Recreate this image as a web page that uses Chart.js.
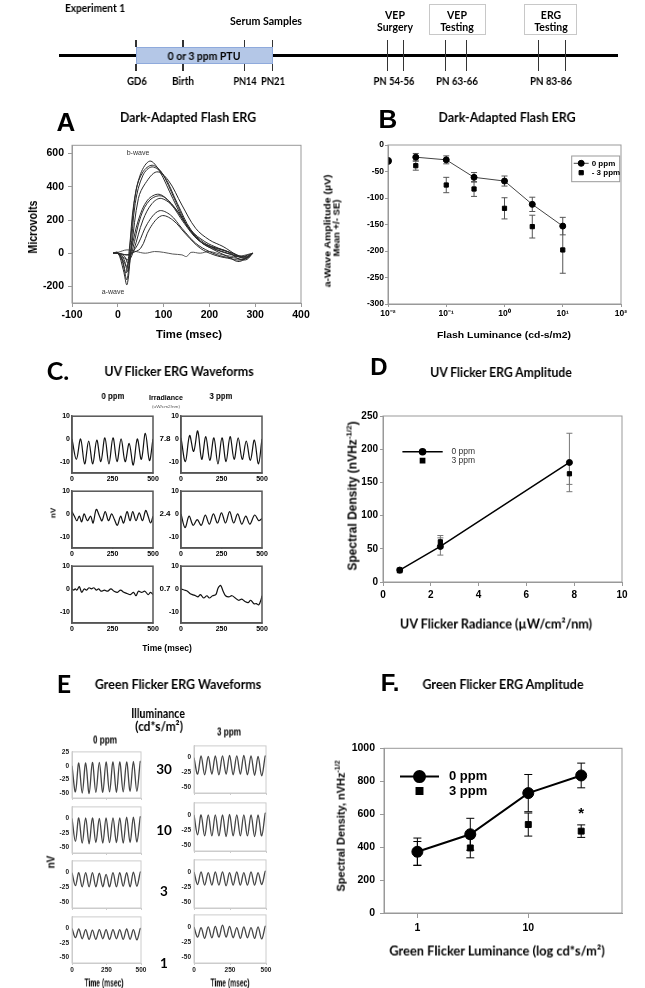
<!DOCTYPE html>
<html>
<head>
<meta charset="utf-8">
<script src="https://cdn.jsdelivr.net/npm/chart.js@4.4.0/dist/chart.umd.min.js"></script>
<style>
  body { margin: 0; background: #fff; width: 645px; height: 988px; position: relative; overflow: hidden; }
  canvas { position: absolute; }
  .t { position: absolute; white-space: nowrap; line-height: 1; color: #000; will-change: transform; }
  .r { position: absolute; box-sizing: border-box; }
</style>
</head>
<body>
<script>
// ---------------- data ----------------

// timeline (Experiment 1)
const tlDayLabels = ["GD6", "Birth", "PN14", "PN21", "PN 54-56", "PN 63-66", "PN 83-86"];
const tlStageLabels = ["Serum Samples", "VEP\nSurgery", "VEP\nTesting", "ERG\nTesting"];

// A: dark-adapted flash ERG traces, [msec, microvolts]
const flashTrace1 = [[-10,0],[0,0],[10,-40],[18,-120],[25,20],[35,300],[50,480],[70,555],[90,500],[120,330],[150,170],[180,80],[210,30],[240,0],[270,-20],[295,0]];
const flashTrace2 = [[-10,0],[0,0],[10,-50],[20,-160],[28,80],[40,380],[55,490],[75,530],[95,490],[125,320],[155,150],[185,60],[215,20],[250,-10],[280,-30],[295,0]];
const flashTrace3 = [[-10,0],[0,5],[12,-100],[20,-190],[28,0],[38,300],[55,470],[75,520],[100,470],[130,300],[160,140],[190,70],[220,30],[250,0],[275,-30],[295,0]];
const flashTrace4 = [[-10,0],[0,0],[15,-60],[22,-110],[30,40],[45,330],[60,420],[85,490],[110,440],[140,290],[170,150],[200,80],[230,40],[260,-10],[280,-20],[295,0]];
const flashTrace5 = [[-10,0],[0,0],[12,-30],[20,-80],[30,30],[45,200],[65,320],[90,355],[115,300],[145,180],[175,80],[205,40],[240,10],[270,-40],[295,0]];
const flashTrace6 = [[-10,0],[0,0],[15,-20],[22,-60],[32,20],[50,220],[70,320],[95,345],[120,290],[150,170],[180,70],[210,20],[240,-20],[265,-50],[295,0]];
const flashTrace7 = [[-10,0],[0,0],[15,-30],[25,-40],[35,20],[55,200],[75,300],[95,330],[125,270],[155,150],[185,60],[215,30],[250,0],[280,-30],[295,0]];
const flashTrace8 = [[-10,0],[0,0],[20,-10],[30,0],[45,60],[65,180],[90,255],[115,230],[140,150],[170,60],[200,10],[230,-20],[260,-30],[280,-40],[295,0]];
const flashTrace9 = [[-10,0],[0,0],[20,-10],[30,0],[50,30],[70,150],[95,225],[120,200],[150,110],[180,30],[210,-10],[240,-30],[270,-40],[295,0]];
const flashTrace10 = [[-10,0],[0,5],[20,20],[40,10],[60,0],[80,10],[100,5],[120,-5],[140,-10],[150,-20],[160,5],[180,0],[200,10],[230,-10],[260,-20],[295,0]];
const flashTraces = [flashTrace1, flashTrace2, flashTrace3, flashTrace4, flashTrace5, flashTrace6, flashTrace7, flashTrace8, flashTrace9, flashTrace10];
const aXTicks = [-100, 0, 100, 200, 300, 400];
const aYTicks = [-200, 0, 200, 400, 600];

// B: a-wave amplitude vs flash luminance
const flashLum = [0.03, 0.1, 0.3, 1, 3, 10];
const aWave0 = [-23, -28, -61, -68, -112, -153];
const aWave0SE = [7, 7.5, 9, 9.5, 13.5, 16.5];
const aWave3 = [-39, -75.5, -83, -119.5, -154, -198];
const aWave3SE = [8.5, 14.5, 14, 20, 21.5, 44];
const aWaveEdgeLum = [0.01];
const aWaveEdge = [-30];
const bXTicks = [0.01, 0.1, 1, 10, 100];
const bXTickLabels = ["10⁻²", "10⁻¹", "10⁰", "10¹", "10²"];
const bYTicks = [0, -50, -100, -150, -200, -250, -300];

// C: UV flicker waveforms, [msec, nV]
const uvWave0_78 = [[0,0],[27,-9],[53,0],[78,-11],[103,-1],[128,-11],[153,-0.5],[178,-10],[203,0.5],[228,-11],[253,0.5],[278,-10],[303,0],[328,-10],[353,-2],[378,-11.5],[403,0],[428,-9],[453,2.5],[478,-9.5],[500,0]];
const uvWave3_78 = [[0,0.5],[27,-10],[53,1.5],[78,-5.5],[103,3.5],[128,-9],[153,1],[178,-9.5],[203,0.5],[228,-11],[253,0.5],[278,-10],[303,1],[328,-9],[353,0.5],[378,-9],[403,-1],[428,-9.5],[453,-0.5],[478,-11],[500,0]];
const uvWave0_24 = [[0,1],[15,-1],[30,-3],[45,-1],[60,-3.5],[75,0],[95,-3],[115,-1],[130,-4],[150,2],[170,-1],[185,-3],[205,1],[225,-3],[245,0],[262,-2.5],[280,-5],[300,-1],[318,-4],[340,1],[358,-3],[375,1],[395,-3],[415,0.5],[435,-3],[455,1.5],[470,-1],[485,-4],[500,-1]];
const uvWave3_24 = [[0,0],[25,-6],[50,-1],[75,-5],[100,-2.5],[125,-5],[150,-0.5],[175,-4.5],[200,0],[225,-4],[250,0.5],[275,-4],[300,1],[325,-4],[350,0],[375,-4.5],[400,-1],[425,-4.5],[455,-0.5],[480,-3],[500,-2]];
const uvWave0_07 = [[0,0],[10,-0.5],[20,0],[30,-0.5],[45,1],[60,-1.5],[75,0],[90,-0.5],[105,0.5],[120,0],[135,0.5],[150,-0.5],[165,0],[180,-1],[200,-0.5],[220,-1],[240,0],[260,-1],[280,-1.5],[300,-0.5],[320,-1.5],[340,-2],[360,-2.5],[380,-1.5],[395,-3],[410,-1],[430,-1.5],[450,-1],[470,-2.5],[485,-1.5],[500,-2.5]];
const uvWave3_07 = [[0,0],[20,-0.5],[40,-1],[55,-2],[70,-2.5],[90,-3],[105,-3.5],[120,-2.5],[140,-4],[160,-3],[175,-4],[195,-3],[215,-2.5],[230,0.5],[245,1.5],[260,-1],[275,-3],[295,-3.5],[315,-3],[335,-4],[355,-5],[375,-4.5],[395,-5.5],[415,-6],[430,-5],[450,-6.5],[465,-6.5],[480,-7],[495,-4.5],[500,-3]];
const uvIrradiance = ["7.8", "2.4", "0.7"];
const cXTicks = [0, 250, 500];
const cYTicks = [10, 0, -10];

// D: UV flicker amplitude
const uvRadiance = [0.7, 2.4, 7.8];
const uvAmp0 = [18, 53.5, 180];
const uvAmp0SE = [3, 13, 44];
const uvAmp3 = [17, 60.5, 163];
const uvAmp3SE = [3, 9.5, 16];
const dXTicks = [0, 2, 4, 6, 8, 10];
const dYTicks = [0, 50, 100, 150, 200, 250];

// E: green flicker waveforms, [msec, nV]
const grnWave0_30 = [[0,0],[25,-47],[49,5],[74,-49],[99,5],[124,-50],[148,6],[173,-48],[198,6],[223,-48],[247,7],[272,-47],[297,7],[322,-48],[346,7],[371,-47],[396,7],[421,-46],[445,8],[470,-46],[495,8],[500,5]];
const grnWave3_30 = [[0,0],[25,-28],[49,3],[74,-29],[99,2],[124,-28],[148,3],[173,-29],[198,3],[223,-28],[247,4],[272,-29],[297,3],[322,-28],[346,4],[371,-29],[396,3],[421,-30],[445,2],[470,-31],[495,3],[500,1]];
const grnWave0_10 = [[0,0],[25,-40],[49,1],[74,-43],[99,1],[124,-44],[148,1],[173,-42],[198,0],[223,-43],[247,1],[272,-42],[297,1],[322,-42],[346,1],[371,-43],[396,2],[421,-42],[445,2],[470,-41],[495,3],[500,1]];
const grnWave3_10 = [[0,0],[25,-33],[49,0],[74,-35],[99,0],[124,-35],[148,0],[173,-35],[198,0],[223,-36],[247,1],[272,-35],[297,0],[322,-35],[346,0],[371,-35],[396,0],[421,-36],[445,0],[470,-35],[495,3],[500,2]];
const grnWave0_3 = [[0,0],[25,-22],[49,0],[74,-24],[99,0],[124,-24],[148,0],[173,-24],[198,-1],[223,-24],[247,-3],[272,-24],[297,0],[322,-24],[346,0],[371,-23],[396,0],[421,-24],[445,1],[470,-23],[495,1],[500,0]];
const grnWave3_3 = [[0,0],[25,-21],[49,0],[74,-22],[99,-1],[124,-22],[148,0],[173,-22],[198,0],[223,-23],[247,-1],[272,-22],[297,0],[322,-22],[346,-1],[371,-22],[396,0],[421,-22],[445,-1],[470,-21],[495,1],[500,0]];
const grnWave0_1 = [[0,0],[25,-16],[49,-1],[74,-18],[99,-2],[124,-19],[148,-3],[173,-19],[198,-2],[223,-18],[247,-2],[272,-19],[297,-2],[322,-18],[346,-2],[371,-19],[396,-1],[421,-19],[445,-2],[470,-20],[495,0],[500,-2]];
const grnWave3_1 = [[0,0],[25,-17],[49,-1],[74,-19],[99,0],[124,-18],[148,1],[173,-17],[198,3],[223,-17],[247,1],[272,-18],[297,-1],[322,-19],[346,0],[371,-18],[396,-1],[421,-19],[445,0],[470,-20],[495,1],[500,0]];
const greenIllum = ["30", "10", "3", "1"];
const eXTicks = [0, 250, 500];
const eYTicksTop = [25, 0, -25, -50];
const eYTicks = [0, -25, -50];

// F: green flicker amplitude
const greenLum = [1, 3, 10, 30];
const greenAmp0 = [372, 478, 728, 835];
const greenAmp0SE = [83, 97, 113, 75];
const greenAmp3 = [362, 395, 537, 497];
const greenAmp3SE = [72, 60, 70, 38];
const sigLum = [30];
const sigAmp = [600];
const fXTicks = [1, 10];
const fYTicks = [0, 200, 400, 600, 800, 1000];

// ---------------- helpers ----------------
const SANS = "'Liberation Sans', Arial, sans-serif";
const CAL = "Lato, 'Open Sans', sans-serif";
const measureCtx = document.createElement("canvas").getContext("2d");

Chart.defaults.font.family = SANS;
Chart.defaults.color = "#000";

function toPts(arr) {
  return arr.map(([x, y]) => ({ x, y }));
}
function zip(xs, ys) {
  return xs.map((x, i) => ({ x, y: ys[i] }));
}

function txt(s, x, y, font, opt = {}) {
  const d = document.createElement("div");
  d.className = "t";
  if (opt.html) d.innerHTML = s; else d.textContent = s;
  d.style.font = font;
  d.style.left = x + "px";
  d.style.top = y + "px";
  if (opt.color) d.style.color = opt.color;
  let tr = "translate(-50%,-50%)";
  if (opt.rot) tr += " rotate(-90deg)";
  if (opt.w) {
    measureCtx.font = font;
    tr += ` scale(${opt.w / measureCtx.measureText(s).width},1)`;
  }
  d.style.transform = tr;
  document.body.appendChild(d);
}

function box(x1, y1, x2, y2, css) {
  const d = document.createElement("div");
  d.className = "r";
  d.style.cssText = `left:${x1}px;top:${y1}px;width:${x2 - x1}px;height:${y2 - y1}px;${css}`;
  document.body.appendChild(d);
}

// frame round the plot area
const framePlugin = {
  id: "frame",
  afterDraw(chart, args, opts) {
    if (!opts.color) return;
    const { ctx, chartArea: a } = chart;
    ctx.save();
    ctx.strokeStyle = opts.color;
    ctx.lineWidth = opts.width || 1;
    ctx.strokeRect(a.left, a.top, a.right - a.left, a.bottom - a.top);
    ctx.restore();
  },
};

// vertical error bars from dataset.errors
const errorBarPlugin = {
  id: "errorBars",
  beforeDatasetsDraw(chart) {
    const { ctx } = chart;
    const ys = chart.scales.y;
    chart.data.datasets.forEach((ds, i) => {
      if (!ds.errors) return;
      const meta = chart.getDatasetMeta(i);
      ctx.save();
      ctx.strokeStyle = ds.errorColor || "#000";
      ctx.lineWidth = ds.errorWidth || 1;
      const c = ds.capWidth || 3;
      meta.data.forEach((pt, j) => {
        const e = ds.errors[j];
        if (!e) return;
        const v = ds.data[j].y;
        const y1 = ys.getPixelForValue(v + e);
        const y2 = ys.getPixelForValue(v - e);
        ctx.beginPath();
        ctx.moveTo(pt.x, y1); ctx.lineTo(pt.x, y2);
        ctx.moveTo(pt.x - c, y1); ctx.lineTo(pt.x + c, y1);
        ctx.moveTo(pt.x - c, y2); ctx.lineTo(pt.x + c, y2);
        ctx.stroke();
      });
      ctx.restore();
    });
  },
};

// legend drawn inside the plot area
const inlineLegendPlugin = {
  id: "inlineLegend",
  afterDraw(chart, args, opts) {
    if (!opts.labels) return;
    const { ctx, chartArea: a } = chart;
    ctx.save();
    if (opts.box) {
      ctx.strokeStyle = "#999";
      ctx.lineWidth = 1;
      ctx.strokeRect(a.left + opts.box[0], a.top + opts.box[1], opts.box[2], opts.box[3]);
    }
    opts.labels.forEach((label, i) => {
      const ds = chart.data.datasets[i];
      const y = a.top + opts.y + i * opts.rowH;
      const x0 = a.left + opts.x;
      const mx = x0 + opts.lineLen / 2;
      if (ds.showLine) {
        ctx.strokeStyle = ds.borderColor;
        ctx.lineWidth = ds.borderWidth;
        ctx.beginPath();
        ctx.moveTo(x0, y); ctx.lineTo(x0 + opts.lineLen, y);
        ctx.stroke();
      }
      ctx.fillStyle = ds.pointBackgroundColor;
      ctx.strokeStyle = ds.pointBorderColor;
      Chart.helpers.drawPoint(ctx, { pointStyle: ds.pointStyle, radius: ds.pointRadius, rotation: 0, borderWidth: 1 }, mx, y);
      ctx.fillStyle = opts.color || "#000";
      ctx.font = opts.font;
      ctx.textBaseline = "middle";
      ctx.textAlign = "left";
      ctx.fillText(label, x0 + opts.lineLen + opts.gap, y);
    });
    ctx.restore();
  },
};

// significance marks at data coordinates
const markPlugin = {
  id: "marks",
  afterDraw(chart, args, opts) {
    if (!opts.xs) return;
    const { ctx, scales } = chart;
    ctx.save();
    ctx.font = opts.font;
    ctx.fillStyle = "#000";
    ctx.textAlign = "center";
    ctx.textBaseline = "middle";
    opts.xs.forEach((x, i) => {
      ctx.fillText(opts.text, scales.x.getPixelForValue(x), scales.y.getPixelForValue(opts.ys[i]));
    });
    ctx.restore();
  },
};

Chart.register(framePlugin, errorBarPlugin, inlineLegendPlugin, markPlugin);

function axis(min, max, ticks, o = {}) {
  return {
    type: o.type || "linear",
    min,
    max,
    afterBuildTicks: (s) => { s.ticks = ticks.map((v) => ({ value: v })); },
    ticks: {
      display: o.labels !== false,
      autoSkip: false,
      maxRotation: 0,
      font: { size: o.size || 10, weight: "bold", family: SANS },
      color: o.color || "#000",
      padding: o.pad ?? 2,
      callback: o.fmt || ((v) => String(v)),
    },
    grid: {
      display: true,
      drawOnChartArea: false,
      drawTicks: true,
      tickLength: o.tick ?? 4,
      color: o.line || "#888",
      lineWidth: o.lw || 1,
    },
    border: { display: true, color: o.line || "#888", width: o.lw || 1 },
  };
}

// area = plot rectangle on the page, pad = room for axes round it
function makeChart(area, pad, datasets, scales, plugins = {}) {
  const c = document.createElement("canvas");
  const w = area.r - area.l + pad.l + pad.r;
  const h = area.b - area.t + pad.t + pad.b;
  c.width = Math.round(w);
  c.height = Math.round(h);
  c.style.left = area.l - pad.l + "px";
  c.style.top = area.t - pad.t + "px";
  c.style.width = Math.round(w) + "px";
  c.style.height = Math.round(h) + "px";
  document.body.appendChild(c);
  scales.x.afterFit = (s) => { s.height = pad.b; };
  scales.y.afterFit = (s) => { s.width = pad.l; };
  scales.x.position = "bottom";
  scales.y.position = "left";
  return new Chart(c, {
    type: "scatter",
    data: { datasets },
    options: {
      responsive: false,
      animation: false,
      devicePixelRatio: 1,
      events: [],
      layout: { padding: { top: pad.t, right: pad.r, left: 0, bottom: 0 } },
      scales,
      plugins: Object.assign({ legend: { display: false }, tooltip: { enabled: false } }, plugins),
    },
  });
}

function waveDs(arr, color, width) {
  return { data: toPts(arr), showLine: true, pointRadius: 0, borderColor: color, borderWidth: width, tension: 0.35 };
}

function markerDs(pts, style, r, errors, extra = {}) {
  return Object.assign({
    data: pts,
    showLine: false,
    pointStyle: style,
    pointRadius: r,
    pointBackgroundColor: "#000",
    pointBorderColor: "#000",
    pointBorderWidth: 1,
    borderColor: "#000",
    borderWidth: 1,
    errors,
  }, extra);
}

// ---------------- timeline ----------------
const tlDayX = [136.7, 182.7, 245, 272.7, 394, 457.3, 551];
const tlDayW = [20, 22, 23, 24, 41, 42, 42];
const tlShortTickX = [136, 183, 244.7, 272.7];
const tlLongTickX = [387.7, 403.3, 445.3, 466.7, 538.7, 565.7];
const tlStageX = [266, 395, 457, 551];

txt("Experiment 1", 95, 8, `bold 10.5px ${CAL}`, { w: 60 });
box(428.7, 4, 485.7, 35, "border:1px solid #c8c8c8");
box(524, 4, 577.3, 35, "border:1px solid #c8c8c8");
box(59, 54.2, 618.3, 57.2, "background:#000");
box(136, 47.3, 273, 64, "background:#b4c7e7;border:1px solid #8faadc");
tlShortTickX.forEach((x) => {
  box(x - 0.7, 40, x + 0.7, 47.3, "background:#333");
  box(x - 0.7, 64, x + 0.7, 70.7, "background:#333");
});
tlLongTickX.forEach((x) => box(x - 0.7, 40, x + 0.7, 70.7, "background:#333"));
txt("0 or 3 ppm PTU", 203.5, 55.7, `bold 10.5px ${CAL}`, { w: 73 });
tlDayLabels.forEach((s, i) => txt(s, tlDayX[i], 81, `bold 10.5px ${CAL}`, { w: tlDayW[i] }));
tlStageLabels.forEach((s, i) => {
  const lines = s.split("\n");
  if (lines.length === 1) txt(lines[0], tlStageX[i], 20.7, `bold 10.5px ${CAL}`, { w: 72 });
  else {
    txt(lines[0], tlStageX[i], 15, `bold 10.5px ${CAL}`);
    txt(lines[1], tlStageX[i], 27.3, `bold 10.5px ${CAL}`);
  }
});

// ---------------- A ----------------
txt("A", 66, 122.3, `bold 26px ${SANS}`);
txt("Dark-Adapted Flash ERG", 188, 117.3, `bold 13px ${CAL}`, { w: 136 });
makeChart(
  { l: 72, t: 143.3, r: 300.7, b: 303.3 },
  { l: 40, t: 8, r: 16, b: 18 },
  flashTraces.map((tr, i) => waveDs(tr, i === 9 ? "#555" : "#2a2a2a", 1)),
  {
    x: axis(-100, 400, aXTicks, { size: 10.5, pad: 1.5, line: "#999" }),
    y: axis(-300, 650, aYTicks, { size: 10.5, pad: 4, line: "#999" }),
  },
  { frame: { color: "#999", width: 1 } }
);
txt("b-wave", 138, 152.3, `7px ${SANS}`, { color: "#333" });
txt("a-wave", 113, 290.7, `7px ${SANS}`, { color: "#333" });
txt("Microvolts", 33.3, 226.7, `bold 12.5px ${SANS}`, { rot: true, w: 53 });
txt("Time (msec)", 189, 334, `bold 11px ${SANS}`, { w: 66 });

// ---------------- B ----------------
txt("B", 388, 118.7, `bold 26px ${SANS}`);
txt("Dark-Adapted Flash ERG", 507, 117.3, `bold 13px ${CAL}`, { w: 137 });
makeChart(
  { l: 388.3, t: 145, r: 621.7, b: 304 },
  { l: 34, t: 8, r: 14, b: 18 },
  [
    markerDs(zip(flashLum, aWave0), "circle", 3, aWave0SE, { showLine: true, borderColor: "#444", errorColor: "#555" }),
    markerDs(zip(flashLum, aWave3), "rect", 3, aWave3SE, { errorColor: "#555" }),
    markerDs(zip(aWaveEdgeLum, aWaveEdge), "circle", 3.5, null, { clip: 0 }),
  ],
  {
    x: axis(0.01, 100, bXTicks, {
      type: "logarithmic", size: 8.5, pad: 2, tick: 3, line: "#999",
      fmt: (v) => bXTickLabels[bXTicks.indexOf(v)],
    }),
    y: axis(-300, 0, bYTicks, { size: 8.5, pad: 1, tick: 3, line: "#999" }),
  },
  {
    frame: { color: "#999", width: 1 },
    inlineLegend: {
      labels: ["0 ppm", "- 3 ppm"],
      box: [183.7, 11, 48, 25.7],
      x: 185.7, y: 18.3, rowH: 9.4, lineLen: 15, gap: 3,
      font: `bold 8px ${SANS}`,
    },
  }
);
txt("a-Wave Amplitude (µV)", 327, 231, `bold 9.5px ${SANS}`, { rot: true, w: 113 });
txt("Mean +/- SE)", 336, 228, `bold 9.5px ${SANS}`, { rot: true, w: 57 });
txt("Flash Luminance (cd-s/m2)", 504, 334, `bold 9.5px ${SANS}`, { w: 134 });

// ---------------- C ----------------
txt("C.", 57.5, 369.5, `bold 25px ${CAL}`);
txt("UV Flicker ERG Waveforms", 179, 370.7, `bold 13px ${CAL}`, { w: 150 });
txt("0 ppm", 112.5, 395.7, `bold 9px ${SANS}`, { w: 23 });
txt("Irradiance", 165.5, 396.7, `bold 7px ${SANS}`, { w: 34 });
txt("(uW/cm2/nm)", 166, 405.7, `4px ${SANS}`, { w: 28, color: "#555" });
txt("3 ppm", 220.7, 396, `bold 9px ${SANS}`, { w: 23 });
txt("nV", 52.5, 513, `bold 8px ${SANS}`, { rot: true });
txt("Time (msec)", 167, 648, `bold 8.5px ${SANS}`);

const cRows = [[415, 472.7], [490, 547.7], [565, 622.7]];
const cCols = [[71.7, 152.3], [181, 261.7]];
const uvWaves = [[uvWave0_78, uvWave3_78], [uvWave0_24, uvWave3_24], [uvWave0_07, uvWave3_07]];
cRows.forEach(([t, b], r) => {
  cCols.forEach(([l, rt], c) => {
    makeChart(
      { l, t, r: rt, b },
      { l: 14, t: 5, r: 9, b: 12 },
      [waveDs(uvWaves[r][c], "#111", 1.2)],
      {
        x: axis(0, 500, cXTicks, { size: 7, pad: 2, tick: 0, line: "#555", lw: 1.5 }),
        y: axis(-15, 10, cYTicks, { size: 7, pad: 2, tick: 0, line: "#555", lw: 1.5 }),
      },
      { frame: { color: "#555", width: 1.5 } }
    );
  });
  txt(uvIrradiance[r], 165, t + (b - t) * 0.4, `bold 8px ${SANS}`);
});

// ---------------- D ----------------
txt("D", 378.5, 366.7, `bold 24px ${SANS}`);
txt("UV Flicker ERG Amplitude", 501.3, 372.3, `bold 13px ${CAL}`, { w: 142.7 });
makeChart(
  { l: 383.3, t: 416, r: 622.3, b: 582.3 },
  { l: 30, t: 8, r: 12, b: 18 },
  [
    markerDs(zip(uvRadiance, uvAmp0), "circle", 3, uvAmp0SE, { showLine: true, borderWidth: 1.5, errorColor: "#777" }),
    markerDs(zip(uvRadiance, uvAmp3), "rect", 3, uvAmp3SE, { errorColor: "#777" }),
  ],
  {
    x: axis(0, 10, dXTicks, { size: 10, pad: 3, tick: 4, line: "#999" }),
    y: axis(0, 250, dYTicks, { size: 10, pad: 2, tick: 3, line: "#999" }),
  },
  {
    frame: { color: "#999", width: 1 },
    inlineLegend: {
      labels: ["0 ppm", "3 ppm"],
      x: 19.4, y: 35.7, rowH: 9, lineLen: 40.3, gap: 8.7,
      font: `8.5px ${SANS}`, color: "#333",
    },
  }
);
txt("Spectral Density (nVHz<sup style='font-size:8px'>-1/2</sup>)", 351.7, 496, `bold 12px ${SANS}`, { rot: true, html: true });
txt("UV Flicker Radiance (µW/cm²/nm)", 495.7, 622.7, `bold 14px ${CAL}`, { w: 193 });

// ---------------- E ----------------
txt("E", 63.5, 683, `bold 25px ${CAL}`);
txt("Green Flicker ERG Waveforms", 177.7, 684, `bold 13px ${CAL}`, { w: 166.7 });
txt("Illuminance", 157.5, 713.3, `bold 13px ${CAL}`, { w: 53.7 });
txt("(cd*s/m²)", 158.8, 725.7, `bold 13px ${CAL}`, { w: 47.7 });
txt("0 ppm", 104.7, 740, `bold 10px ${SANS}`, { w: 24 });
txt("3 ppm", 228.7, 731.7, `bold 10px ${SANS}`, { w: 24 });
txt("nV", 50.7, 861.7, `bold 10px ${SANS}`, { rot: true });
txt("Time (msec)", 104.3, 982.7, `bold 10px ${SANS}`, { w: 39 });
txt("Time (msec)", 230, 982.7, `bold 10px ${SANS}`, { w: 39 });

const eLeftRows = [[750, 798.3], [805, 853.3], [859.3, 908.3], [915, 963.3]];
const eRightRows = [[744, 793.3], [801, 850.7], [858.3, 908.3], [912.7, 962.7]];
const eCols = [[72.3, 141.2], [193.8, 265.7]];
const eLabelY = [769.3, 830, 891, 963];
const greenWaves = [[grnWave0_30, grnWave3_30], [grnWave0_10, grnWave3_10], [grnWave0_3, grnWave3_3], [grnWave0_1, grnWave3_1]];
greenWaves.forEach((pair, r) => {
  pair.forEach((wave, c) => {
    const [t, b] = c === 0 ? eLeftRows[r] : eRightRows[r];
    const top = r === 0 && c === 0;
    makeChart(
      { l: eCols[c][0], t, r: eCols[c][1], b },
      { l: 16, t: 5, r: 9, b: 10 },
      [waveDs(wave, "#444", 1.3)],
      {
        x: axis(0, 500, eXTicks, { size: 6.5, pad: 1, tick: 2, line: "#ccc", labels: r === 3, color: "#222" }),
        y: axis(top ? -58 : -60, top ? 25 : 20, top ? eYTicksTop : eYTicks, { size: 6.5, pad: 3, tick: 0, line: "#ccc", color: "#222" }),
      },
      { frame: { color: "#ccc", width: 1 } }
    );
  });
  txt(greenIllum[r], 163.7, eLabelY[r], `bold 13.5px ${CAL}`);
});

// ---------------- F ----------------
txt("F.", 390, 683, `bold 24px ${SANS}`);
txt("Green Flicker ERG Amplitude", 502.5, 684, `bold 13px ${CAL}`, { w: 161.7 });
makeChart(
  { l: 384, t: 745, r: 622.3, b: 913.3 },
  { l: 36, t: 8, r: 12, b: 22 },
  [
    markerDs(zip(greenLum, greenAmp0), "circle", 5.5, greenAmp0SE, { showLine: true, borderWidth: 2, capWidth: 4 }),
    markerDs(zip(greenLum, greenAmp3), "rect", 4.2, greenAmp3SE, { capWidth: 4 }),
  ],
  {
    x: axis(0.5, 70, fXTicks, { type: "logarithmic", size: 10.5, pad: 4, tick: 5, line: "#999" }),
    y: axis(0, 1000, fYTicks, { size: 10.5, pad: 5, tick: 4, line: "#999" }),
  },
  {
    frame: { color: "#999", width: 1 },
    inlineLegend: {
      labels: ["0 ppm", "3 ppm"],
      x: 16, y: 28.3, rowH: 14.4, lineLen: 39, gap: 10,
      font: `bold 13px ${SANS}`,
    },
    marks: { xs: sigLum, ys: sigAmp, text: "*", font: `bold 15px ${SANS}` },
  }
);
txt("Spectral Density, nVHz<sup style='font-size:7px'>-1/2</sup>", 340, 825.7, `bold 11px ${SANS}`, { rot: true, html: true });
txt("Green Flicker Luminance (log cd*s/m²)", 496.7, 950, `bold 14px ${CAL}`, { w: 215.7 });
</script>
</body>
</html>
